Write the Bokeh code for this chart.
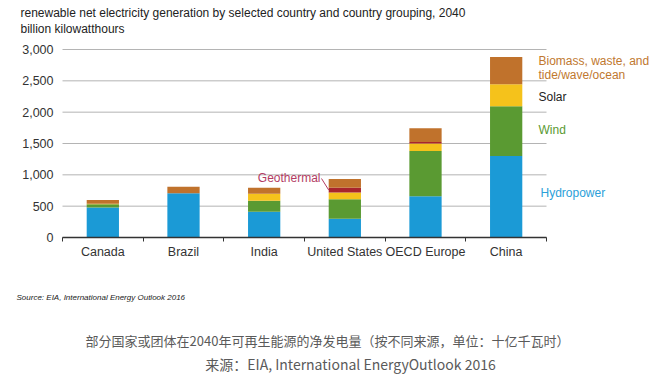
from bokeh.plotting import figure
from bokeh.models import ColumnDataSource, Label, Range1d, FixedTicker, NumeralTickFormatter
from bokeh.embed import file_html
from bokeh.resources import INLINE

categories = ["Canada", "Brazil", "India", "United States", "OECD Europe", "China"]
hydropower = [480, 705, 410, 300, 660, 1300]
wind = [50, 0, 175, 310, 720, 795]
solar = [10, 0, 115, 110, 120, 350]
geothermal = [0, 0, 0, 75, 25, 0]
biomass = [60, 105, 95, 140, 220, 435]
y_ticks = [0, 500, 1000, 1500, 2000, 2500, 3000]

series = ["Hydropower", "Wind", "Solar", "Geothermal", "Biomass"]
colors = ["#1b9ad6", "#5a9a32", "#f5c21b", "#a8252c", "#c0722c"]

W, H = 654, 384
NCAT = len(categories)
YMAX = y_ticks[-1]
# pixel layout of the plotting area (canvas coords)
PX_LEFT, PX_RIGHT = 62, 546      # category 0 .. NCAT
PX_ZERO, PX_TOP = 237, 49        # value 0 .. YMAX
CW = (PX_RIGHT - PX_LEFT) / NCAT
YS = (PX_ZERO - PX_TOP) / YMAX

def xpx(px):
    return (px - PX_LEFT) / CW

def ypx(py):
    return (PX_ZERO - py) / YS

xs = [i + 0.5 for i in range(NCAT)]
source = ColumnDataSource(dict(x=xs, Hydropower=hydropower, Wind=wind, Solar=solar,
                               Geothermal=geothermal, Biomass=biomass))

p = figure(width=W, height=H, output_backend="svg", toolbar_location=None,
           x_range=Range1d(xpx(0), xpx(W)), y_range=Range1d(ypx(H), ypx(0)),
           min_border=0)
p.outline_line_color = None
p.background_fill_color = "white"
p.border_fill_color = "white"

# horizontal gridlines limited to the category span
p.segment(x0=[0] * len(y_ticks), x1=[NCAT] * len(y_ticks), y0=y_ticks, y1=y_ticks,
          line_color="#b4b4b4", line_width=1, level="underlay")

p.vbar_stack(series, x="x", width=0.4, color=colors, line_color=None, source=source)

p.xgrid.grid_line_color = None
p.ygrid.grid_line_color = None

p.yaxis.fixed_location = 0
p.yaxis.bounds = (0, YMAX)
p.yaxis.ticker = FixedTicker(ticks=y_ticks)
p.yaxis.formatter = NumeralTickFormatter(format="0,0")
p.yaxis.axis_line_color = None
p.yaxis.major_tick_line_color = None
p.yaxis.minor_tick_line_color = None
p.yaxis.major_label_text_font = "Liberation Sans"
p.yaxis.major_label_text_font_size = "12.5px"
p.yaxis.major_label_text_color = "#333333"
p.yaxis.major_label_standoff = 3

p.xaxis.fixed_location = 0
p.xaxis.bounds = (0, NCAT)
p.xaxis.ticker = FixedTicker(ticks=xs, minor_ticks=list(range(NCAT + 1)))
p.xaxis.major_label_overrides = {x: c for x, c in zip(xs, categories)}
p.xaxis.major_tick_line_color = None
p.xaxis.minor_tick_line_color = "#333333"
p.xaxis.minor_tick_out = 4
p.xaxis.minor_tick_in = 0
p.xaxis.axis_line_color = "#333333"
p.xaxis.axis_line_width = 1.5
p.xaxis.major_label_text_font = "Liberation Sans"
p.xaxis.major_label_text_font_size = "12.5px"
p.xaxis.major_label_text_color = "#333333"
p.xaxis.major_label_standoff = 1

def add_text(txt, px, py, color="#222222", size="12px", align="left",
             font="Liberation Sans", style="normal"):
    p.add_layout(Label(x=xpx(px), y=ypx(py), text=txt, text_color=color, text_font_size=size,
                       text_align=align, text_baseline="middle", text_font=font,
                       text_font_style=style))

add_text("renewable net electricity generation by selected country and country grouping, 2040", 20, 12)
add_text("billion kilowatthours", 20, 28)

# right-side series labels
add_text("Biomass, waste, and", 538, 60, color="#c0782f", size="12px")
add_text("tide/wave/ocean", 538, 74, color="#c0782f", size="12px")
add_text("Solar", 538, 96, color="#222222", size="12px")
add_text("Wind", 538, 129, color="#5a9a32", size="12px")
add_text("Hydropower", 540, 192, color="#2ba0d9", size="12px")

# Geothermal callout
us = categories.index("United States")
geo_mid = hydropower[us] + wind[us] + solar[us] + geothermal[us] / 2
add_text("Geothermal", 320, 177, color="#b33c63", size="12px", align="right")
p.segment(x0=[xpx(321)], y0=[ypx(178)], x1=[xs[us] - 0.2], y1=[geo_mid],
          line_color="#b33c63", line_width=1)

add_text("Source:  EIA, International Energy Outlook 2016", 16, 297, color="#222222",
         size="8px", style="italic")

add_text("部分国家或团体在2040年可再生能源的净发电量（按不同来源，单位：十亿千瓦时）", 327, 340,
         color="#5a5a5a", size="13px", align="center", font="Noto Sans CJK SC")
add_text("来源：EIA, International EnergyOutlook 2016", 350, 363,
         color="#5a5a5a", size="14px", align="center", font="Noto Sans CJK SC")

open("out.html", "w").write(file_html(p, INLINE))
